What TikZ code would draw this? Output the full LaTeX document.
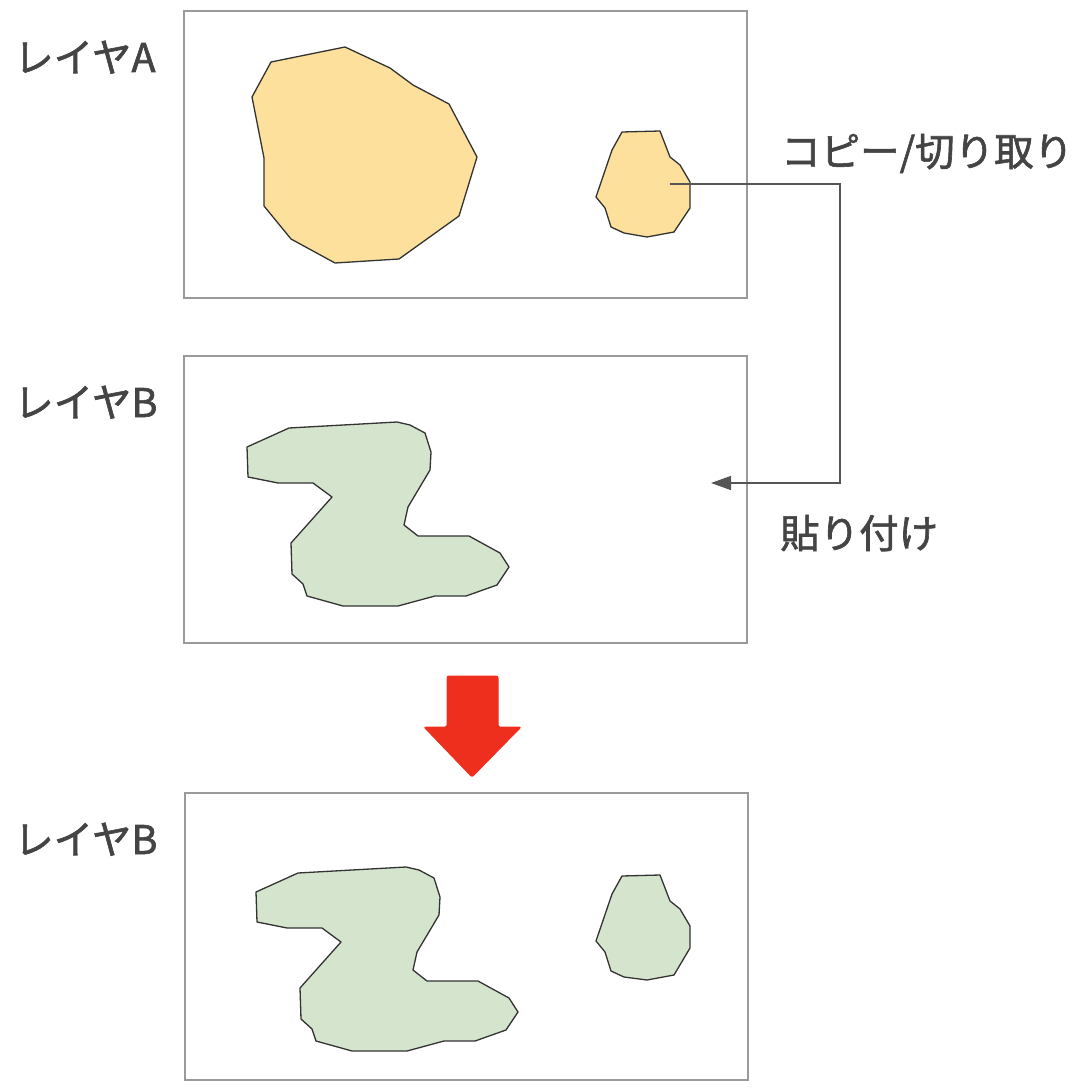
\documentclass[tikz,border=0pt]{standalone}
\usepackage{fontspec}
\setmainfont{Noto Sans CJK JP}
\newfontfamily\lblfont{Noto Sans CJK JP}[FakeBold=1.6]
\usetikzlibrary{arrows.meta}
\definecolor{txtc}{HTML}{444444}
\definecolor{boxc}{HTML}{9A9A9A}
\definecolor{yellowf}{HTML}{FCE09B}
\definecolor{greenf}{HTML}{D5E4CC}
\definecolor{edgec}{HTML}{333333}
\definecolor{conc}{HTML}{555555}
\definecolor{redc}{HTML}{EE2F1E}
\tikzset{
  layerbox/.style={draw=boxc,line width=1.5pt},
  lbl/.style={anchor=base west,inner sep=0pt,text=txtc,font=\lblfont\fontsize{39.5}{46}\selectfont},
  yshape/.style={fill=yellowf,draw=edgec,line width=1.3pt,line join=round},
  gshape/.style={fill=greenf,draw=edgec,line width=1.3pt,line join=round},
  conn/.style={draw=conc,line width=1.5pt,-{Triangle[length=20pt,width=14pt]}},
  bigarrow/.style={fill=redc,draw=redc,line width=1pt,rounded corners=2pt}
}
\begin{document}
\begin{tikzpicture}[x=1pt,y=-1pt]
\useasboundingbox (0,0) rectangle (1080,1089);
% layer boxes
\draw[layerbox] (184,11) rectangle (747,298);
\draw[layerbox] (184,356) rectangle (747,643);
\draw[layerbox] (185,793) rectangle (748,1080);
% labels
\node[lbl] (la) at (14,72) {レイヤA};
\node[lbl] (lb) at (14,417) {レイヤB};
\node[lbl] (lc) at (14,854) {レイヤB};
\node[lbl] (lcopy) at (781,166) {コピー/切り取り};
\node[lbl] (lpaste) at (780,548) {貼り付け};
% layer A shapes
\draw[yshape] (271,62) -- (345,47) -- (390,68) -- (413,85) -- (449,104) -- (477,157) -- (459,216) -- (399,259) -- (335,263) -- (291,239) -- (264,206) -- (264,158) -- (252,97) -- cycle;
\draw[yshape] (622,132) -- (660,131) -- (670,157) -- (680,165) -- (690,182) -- (690,208) -- (674,232) -- (647,237) -- (624,233) -- (611,227) -- (605,208) -- (596,197) -- (612,150) -- cycle;
% layer B shape
\draw[gshape] (247,447) -- (289,428) -- (397,422) -- (410,425) -- (425,433) -- (431,452) -- (430,470) -- (408,507) -- (404,525) -- (418,536) -- (469,536) -- (500,553) -- (509,567) -- (497,585) -- (466,596) -- (435,596) -- (398,606) -- (343,606) -- (307,596) -- (303,584) -- (292,574) -- (291,543) -- (332,497) -- (313,483) -- (278,483) -- (248,477) -- cycle;
% result layer shapes
\begin{scope}[shift={(9,445)}]
\draw[gshape] (247,447) -- (289,428) -- (397,422) -- (410,425) -- (425,433) -- (431,452) -- (430,470) -- (408,507) -- (404,525) -- (418,536) -- (469,536) -- (500,553) -- (509,567) -- (497,585) -- (466,596) -- (435,596) -- (398,606) -- (343,606) -- (307,596) -- (303,584) -- (292,574) -- (291,543) -- (332,497) -- (313,483) -- (278,483) -- (248,477) -- cycle;
\end{scope}
\draw[gshape] (622,876) -- (660,875) -- (670,901) -- (680,909) -- (690,926) -- (690,948) -- (674,975) -- (647,980) -- (624,977) -- (611,971) -- (605,952) -- (596,941) -- (612,894) -- cycle;
% connector
\coordinate (src) at (670,184);
\coordinate (corner) at (840,184);
\coordinate (dst) at (711,483);
\draw[conn] (src) -- (corner) |- (dst);
% big red arrow
\fill[bigarrow] (447,676) -- (498,676) -- (498,727) -- (521,727) -- (472,777) -- (424,727) -- (447,727) -- cycle;
\end{tikzpicture}
\end{document}
